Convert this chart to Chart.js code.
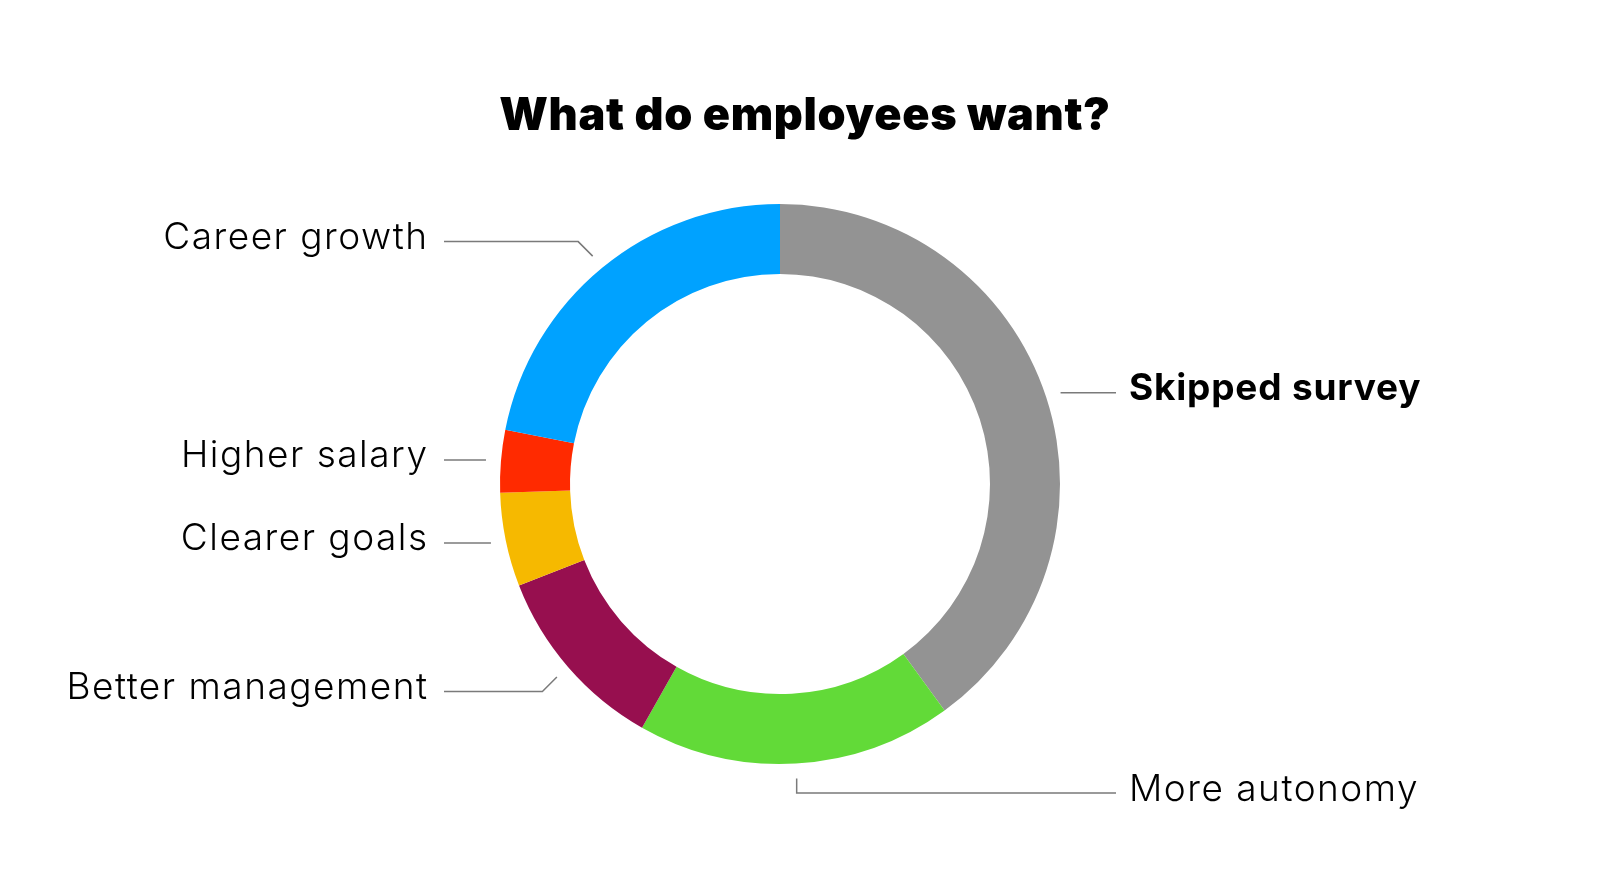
<!DOCTYPE html>
<html>
<head>
<meta charset="utf-8">
<title>What do employees want?</title>
<script src="https://cdn.jsdelivr.net/npm/chart.js@4"></script>
<style>
  html, body { margin: 0; padding: 0; background: #ffffff; }
  #wrap { position: relative; width: 1600px; height: 880px; }
</style>
</head>
<body>
<div id="wrap"><canvas id="donut"></canvas></div>
<script>
// slices in drawing order, clockwise from 12 o'clock
var categories = ["Skipped survey", "More autonomy", "Better management", "Clearer goals", "Higher salary", "Career growth"];
var shares = [40.0, 18.2, 10.9, 5.4, 3.6, 21.9];
var sliceColors = ["#939393", "#62DA38", "#970F4F", "#F6B900", "#FF2A00", "#00A2FF"];
var chartTitle = "What do employees want?";
var highlighted = "Skipped survey";

var labelFont = '"Inter", "Lato", sans-serif';

// title + leader-line labels, anchored on each arc's mid angle
var calloutPlugin = {
  id: "callouts",
  afterDatasetsDraw: function (chart) {
    var ctx = chart.ctx;
    var meta = chart.getDatasetMeta(0);

    ctx.save();
    ctx.fillStyle = "#000000";
    ctx.textAlign = "center";
    ctx.textBaseline = "alphabetic";
    ctx.font = "900 45px " + labelFont;
    ctx.letterSpacing = "0.7px";
    ctx.fillText(chartTitle, chart.width / 2 + 5, 130);

    meta.data.forEach(function (arc, i) {
      var p = arc.getProps(["x", "y", "startAngle", "endAngle", "outerRadius"], true);
      var mid = (p.startAngle + p.endAngle) / 2;
      var cos = Math.cos(mid), sin = Math.sin(mid);
      var right = cos >= 0;
      var ax = p.x + (p.outerRadius + 15) * cos;
      var ay = p.y + (p.outerRadius + 15) * sin;
      var ex = ax, ey = ay;
      // steep slices get a short 45° (or vertical) kink before the horizontal run
      if (Math.abs(sin) > 0.5) {
        ey = ay + (sin > 0 ? 14.5 : -14.5);
        if (Math.abs(cos) > 0.25) ex = ax + (cos > 0 ? 14.5 : -14.5);
      }
      var endX = right ? p.x + 336 : p.x - 336;

      ctx.beginPath();
      ctx.strokeStyle = "#7a7a7a";
      ctx.lineWidth = 1.5;
      ctx.moveTo(ax, ay);
      ctx.lineTo(ex, ey);
      ctx.lineTo(endX, ey);
      ctx.stroke();

      var name = chart.data.labels[i];
      var bold = name === highlighted;
      ctx.font = (bold ? "700 " : "350 ") + "37px " + labelFont;
      ctx.letterSpacing = bold ? "0.8px" : "1.5px";
      ctx.textAlign = right ? "left" : "right";
      ctx.fillText(name, right ? p.x + 349 : p.x - 351.5, ey + 7.5);
    });
    ctx.restore();
  },
};

new Chart(document.getElementById("donut"), {
  type: "doughnut",
  data: {
    labels: categories,
    datasets: [
      {
        data: shares,
        backgroundColor: sliceColors,
        borderWidth: 0,
      },
    ],
  },
  options: {
    responsive: true,
    maintainAspectRatio: false,
    animation: false,
    cutout: "75%",
    layout: { padding: { top: 204, left: 500, right: 540, bottom: 116 } },
    plugins: {
      legend: { display: false },
      title: { display: false },
      tooltip: { enabled: false },
    },
  },
  plugins: [calloutPlugin],
});
</script>
</body>
</html>
